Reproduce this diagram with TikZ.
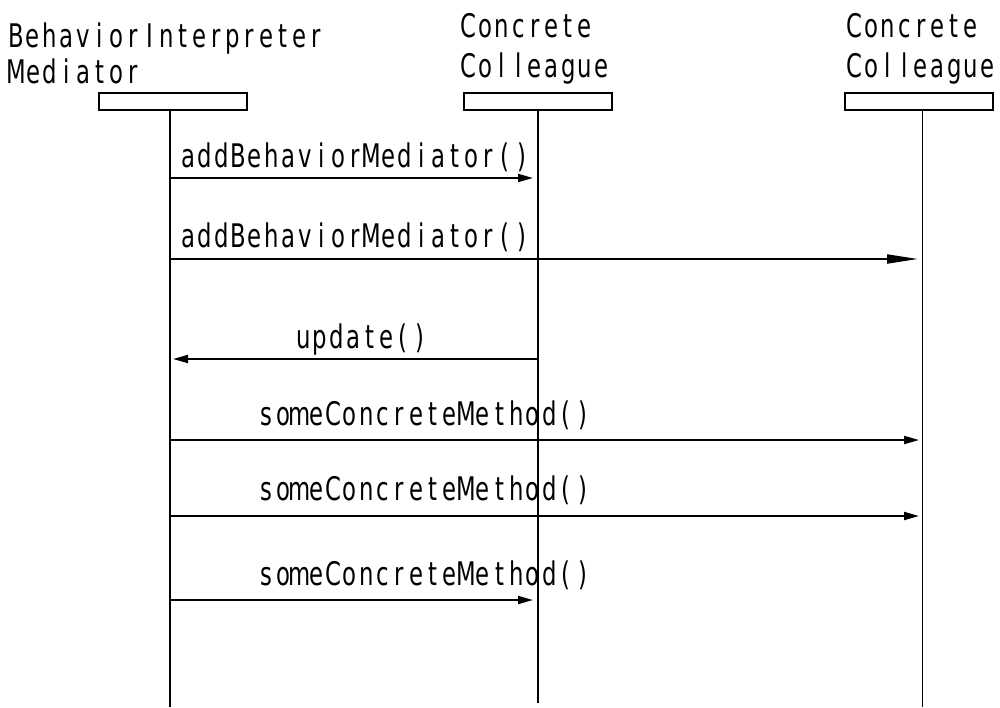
\documentclass[tikz,border=0pt]{standalone}
\usepackage{fontspec}
\usetikzlibrary{arrows.meta}
% condensed gothic face, every glyph centred in a fixed-width cell
\newfontfamily\gfont[FakeStretch=0.7]{DejaVu Sans}
\makeatletter
\newcommand\cellbox[1]{\makebox[0.33333cm][c]{#1}}
\newcommand\gmono[1]{\gmono@loop#1\relax}
\def\gmono@loop#1{\ifx#1\relax\else\cellbox{#1}\expandafter\gmono@loop\fi}
\makeatother

\begin{document}
\begin{tikzpicture}[x=0.02cm,y=-0.02cm,
  every node/.style={inner sep=0pt, outer sep=0pt},
  txt/.style={anchor=base west, font=\gfont\fontsize{18.5}{22}\selectfont},
  head/.style={draw, line width=1.1pt, minimum width=2.96cm, minimum height=0.34cm, fill=white},
  life/.style={line width=1.1pt},
  msg/.style={line width=1.1pt, -{Triangle[length=0.3cm,width=0.16cm]}},
  longmsg/.style={line width=1.1pt, -{Triangle[length=0.62cm,width=0.18cm]}}]
\useasboundingbox (0,0) rectangle (1000,707);

% object heads
\node[head] (bimBox) at (173,101.5) {};
\node[head] (cc1Box) at (538,101.5) {};
\node[head] (cc2Box) at (919,101.5) {};

\node[txt] (bimName1) at (8,47) {\gmono{BehaviorInterpreter}};
\node[txt] (bimName2) at (8,83) {\gmono{Mediator}};
\node[txt] (cc1Name1) at (460,37) {\gmono{Concrete}};
\node[txt] (cc1Name2) at (460,77) {\gmono{Colleague}};
\node[txt] (cc2Name1) at (846,37) {\gmono{Concrete}};
\node[txt] (cc2Name2) at (846,77) {\gmono{Colleague}};

% lifelines
\coordinate (bimTop) at (170,111);
\coordinate (bimEnd) at (170,707);
\coordinate (cc1Top) at (538,111);
\coordinate (cc1End) at (538,703);
\coordinate (cc2Top) at (922.5,111);
\coordinate (cc2End) at (922.5,707);
\draw[life] (bimTop) -- (bimEnd);
\draw[life] (cc1Top) -- (cc1End);
\draw[life] (cc2Top) -- (cc2End);

% message labels
\node[txt] (lab1) at (180,167) {\gmono{addBehaviorMediator()}};
\node[txt] (lab2) at (180,247) {\gmono{addBehaviorMediator()}};
\node[txt] (lab3) at (295,348) {\gmono{update()}};
\node[txt] (lab4) at (258,425) {\gmono{someConcreteMethod()}};
\node[txt] (lab5) at (258,500) {\gmono{someConcreteMethod()}};
\node[txt] (lab6) at (258,585) {\gmono{someConcreteMethod()}};

% message end points on the lifelines
\coordinate (m1s) at (169,178);  \coordinate (m1e) at (533,178);
\coordinate (m2s) at (169,259);  \coordinate (m2e) at (918,259);
\coordinate (m3s) at (538,359);  \coordinate (m3e) at (173,359);
\coordinate (m4s) at (169,440);  \coordinate (m4e) at (919,440);
\coordinate (m5s) at (169,516);  \coordinate (m5e) at (919,516);
\coordinate (m6s) at (169,600);  \coordinate (m6e) at (533,600);

\draw[msg] (m1s) -- (m1e);
\draw[longmsg] (m2s) -- (m2e);
\draw[msg] (m3s) -- (m3e);
\draw[msg] (m4s) -- (m4e);
\draw[msg] (m5s) -- (m5e);
\draw[msg] (m6s) -- (m6e);
\end{tikzpicture}
\end{document}
